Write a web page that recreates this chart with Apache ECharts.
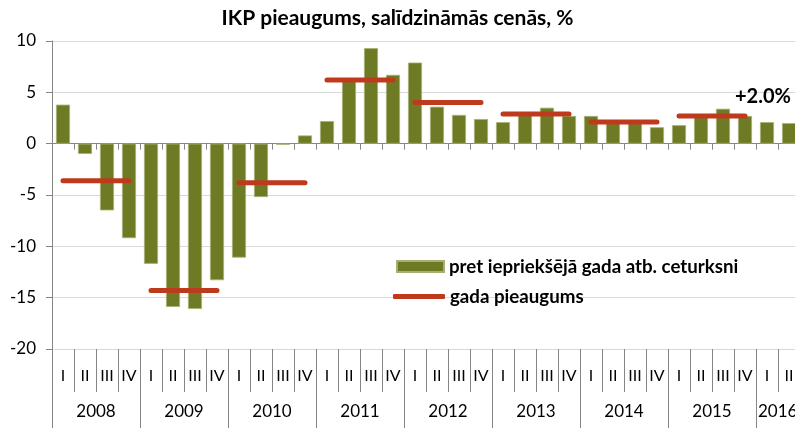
<!DOCTYPE html>
<html>
<head>
<meta charset="utf-8">
<script src="https://cdn.jsdelivr.net/npm/echarts@6/dist/echarts.min.js"></script>
<style>
html,body{margin:0;padding:0;background:#fff;}
#chart{width:795px;height:428px;}
</style>
</head>
<body>
<div id="chart"></div>
<script>
const titleText = 'IKP pieaugums, salīdzināmās cenās, %';
const years = ['2008','2009','2010','2011','2012','2013','2014','2015','2016'];
const quarterNames = ['I','II','III','IV'];
const quarterCount = 34;
const quarterlyGrowth = [
  3.8, -1.0, -6.5, -9.2,
  -11.7, -15.9, -16.1, -13.3,
  -11.1, -5.2, -0.1, 0.8,
  2.2, 6.1, 9.3, 6.7,
  7.9, 3.6, 2.8, 2.4,
  2.1, 2.9, 3.5, 2.7,
  2.7, 2.2, 2.1, 1.6,
  1.8, 2.7, 3.4, 2.7,
  2.1, 2.0
];
const annualGrowth = [-3.6, -14.3, -3.8, 6.2, 4.0, 2.9, 2.1, 2.7];
const barName = 'pret iepriekšējā gada atb. ceturksni';
const lineName = 'gada pieaugums';
const noteText = '+2.0%';

const FONT = 'Lato';
const quarterLabels = [];
for (let i = 0; i < quarterCount; i++) quarterLabels.push(quarterNames[i % 4]);

// year axis: boundaries between quarters (35 positions)
const yearAxisData = [];
for (let i = 0; i <= quarterCount; i++) yearAxisData.push('');
years.forEach((y, k) => {
  const idx = 4 * k + 2;
  if (4 * k + 4 <= quarterCount) {
    yearAxisData[idx] = y;
  } else {
    yearAxisData[4 * k] = { value: y, textStyle: { align: 'left', padding: [0, 0, 0, 2] } };
  }
});

const lineSeries = annualGrowth.map((v, k) => {
  const d = new Array(quarterCount).fill(null);
  for (let q = 0; q < 4; q++) d[4 * k + q] = v;
  return {
    name: lineName, type: 'line', data: d, xAxisIndex: 0, yAxisIndex: 0,
    symbol: 'none', connectNulls: false, z: 5,
    lineStyle: { color: '#BF3A1C', width: 5, cap: 'round' },
    itemStyle: { color: '#BF3A1C' },
    emphasis: { disabled: true }, silent: true, animation: false
  };
});

const chart = echarts.init(document.getElementById('chart'), null, { renderer: 'canvas' });
chart.setOption({
  animation: false,
  backgroundColor: '#ffffff',
  textStyle: { fontFamily: FONT },
  title: [
    { text: titleText, left: 'center', top: 8, padding: 0,
      textStyle: { fontFamily: FONT, fontWeight: 'bold', fontSize: 21, color: '#000' } },
    { text: noteText, left: 735, top: 87, padding: 0,
      textStyle: { fontFamily: FONT, fontWeight: 'bold', fontSize: 20, color: '#000' } }
  ],
  legend: [
    { data: [barName], left: 396, top: 257, padding: 0, itemWidth: 47, itemHeight: 11, icon: 'rect',
      selectedMode: false, itemGap: 5,
      textStyle: { fontFamily: FONT, fontWeight: 'bold', fontSize: 18.7, color: '#000' } },
    { data: [lineName], left: 393, top: 287, padding: 0, itemWidth: 52, itemHeight: 5, icon: 'roundRect',
      selectedMode: false, itemGap: 5,
      textStyle: { fontFamily: FONT, fontWeight: 'bold', fontSize: 18.7, color: '#000' } }
  ],
  grid: { left: 52, right: -5, top: 41, bottom: 79, containLabel: false, outerBoundsMode: 'none' },
  xAxis: [
    { type: 'category', data: quarterLabels, position: 'bottom',
      axisLine: { onZero: true, lineStyle: { color: '#868686', width: 1 } },
      axisTick: { show: true, length: 6, lineStyle: { color: '#868686' } },
      axisLabel: { show: false }, splitLine: { show: false } },
    { type: 'category', data: quarterLabels, position: 'bottom',
      axisLine: { show: false, onZero: false },
      axisTick: { show: true, length: 43, interval: 0, lineStyle: { color: '#868686' } },
      axisLabel: { show: true, interval: 0, margin: 19, fontFamily: FONT, fontSize: 16, color: '#000' },
      splitLine: { show: false } },
    { type: 'category', data: yearAxisData, boundaryGap: false, position: 'bottom',
      axisLine: { show: false, onZero: false },
      axisTick: { show: true, length: 82, interval: (i) => i % 4 === 0, lineStyle: { color: '#868686' } },
      axisLabel: { show: true, interval: 0, margin: 54, fontFamily: FONT, fontSize: 17, color: '#000' },
      splitLine: { show: false } }
  ],
  yAxis: {
    type: 'value', min: -20, max: 10, interval: 5,
    axisLine: { show: true, lineStyle: { color: '#868686' } },
    axisTick: { show: true, length: 6, lineStyle: { color: '#868686' } },
    axisLabel: { margin: 16, fontFamily: FONT, fontSize: 17, color: '#000' },
    splitLine: { show: true, lineStyle: { color: '#d9d9d9', width: 1 } }
  },
  series: [
    { name: barName, type: 'bar', data: quarterlyGrowth, xAxisIndex: 0, yAxisIndex: 0,
      barWidth: 14, z: 2,
      itemStyle: { color: '#6F7A24', borderColor: '#A9AE74', borderWidth: 0.8 },
      emphasis: { disabled: true }, silent: true }
  ].concat(lineSeries)
});
</script>
</body>
</html>
